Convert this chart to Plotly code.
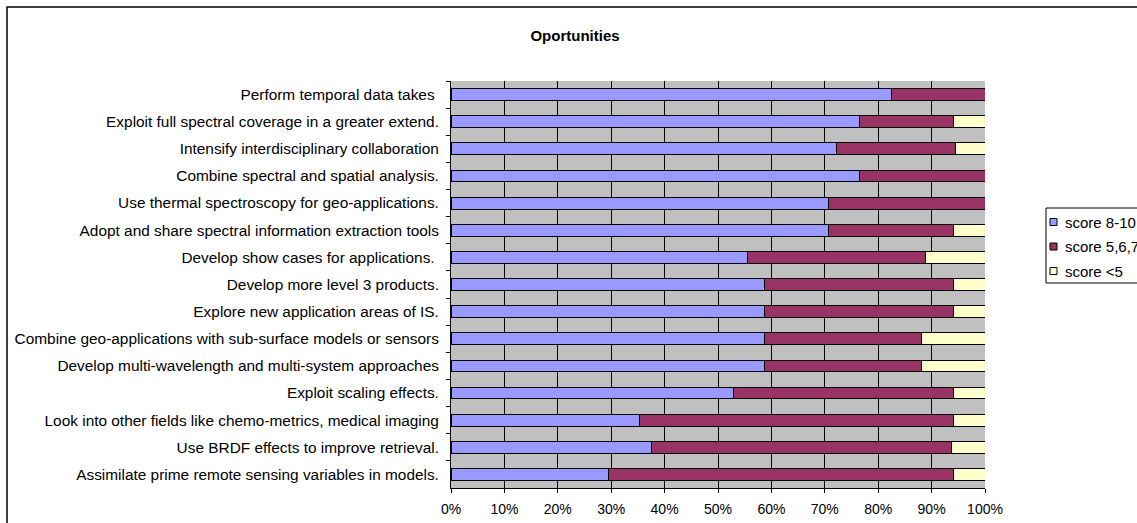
import plotly.graph_objects as go

# Survey statements (top to bottom) and share of answers per score group, in %
categories = [
    "Perform temporal data takes\u00a0",
    "Exploit full spectral coverage in a greater extend.",
    "Intensify interdisciplinary collaboration",
    "Combine spectral and spatial analysis.",
    "Use thermal spectroscopy for geo-applications.",
    "Adopt and share spectral information extraction tools",
    "Develop show cases for applications.\u00a0",
    "Develop more level 3 products.",
    "Explore new application areas of IS.",
    "Combine geo-applications with sub-surface models or sensors",
    "Develop multi-wavelength and multi-system approaches",
    "Exploit scaling effects.",
    "Look into other fields like chemo-metrics, medical imaging",
    "Use BRDF effects to improve retrieval.",
    "Assimilate prime remote sensing variables in models.",
]
score_8_10 = [82.4, 76.5, 72.2, 76.5, 70.6, 70.6, 55.6, 58.8, 58.8, 58.8, 58.8, 52.9, 35.3, 37.5, 29.4]
score_5_7 = [17.6, 17.6, 22.2, 23.5, 29.4, 23.5, 33.3, 35.3, 35.3, 29.4, 29.4, 41.2, 58.8, 56.25, 64.7]
score_lt5 = [0.0, 5.9, 5.6, 0.0, 0.0, 5.9, 11.1, 5.9, 5.9, 11.8, 11.8, 5.9, 5.9, 6.25, 5.9]

series_names = ["score 8-10", "score 5,6,7", "score <5"]
series_values = [score_8_10, score_5_7, score_lt5]
series_colors = ["#9999FF", "#993366", "#FFFFCC"]
x_ticks = list(range(0, 101, 10))
x_tick_labels = [f"{v}%" for v in x_ticks]

W, H = 1137, 523
ML, MR, MT, MB = 451, W - 985, 81, H - 488
PW, PH = W - ML - MR, H - MT - MB


def px_x(p):
    return (p - ML) / PW


def px_y(p):
    return 1 - (p - MT) / PH


FONT = "Liberation Sans, Arial, sans-serif"

fig = go.Figure()
for name, vals, col in zip(series_names, series_values, series_colors):
    fig.add_trace(go.Bar(
        y=categories, x=vals, name=name, orientation="h",
        marker=dict(color=col, line=dict(color="#000000", width=1)),
        showlegend=False, hoverinfo="x+y+name",
    ))

shapes = [
    # chart frame
    dict(type="rect", xref="paper", yref="paper",
         x0=px_x(7), x1=px_x(1150), y0=px_y(540), y1=px_y(7),
         line=dict(color="#000000", width=1.5), layer="below"),
    # legend box
    dict(type="rect", xref="paper", yref="paper",
         x0=px_x(1046), x1=px_x(1150), y0=px_y(283), y1=px_y(208),
         line=dict(color="#000000", width=1), fillcolor="#FFFFFF"),
]
annotations = []
for i, (name, col) in enumerate(zip(series_names, series_colors)):
    cy = 222 + 24.5 * i
    shapes.append(dict(type="rect", xref="paper", yref="paper",
                       x0=px_x(1050), x1=px_x(1057), y0=px_y(cy + 3.5), y1=px_y(cy - 3.5),
                       line=dict(color="#000000", width=1), fillcolor=col))
    annotations.append(dict(text=name, xref="paper", yref="paper",
                            x=px_x(1063), y=px_y(cy), xanchor="left", yanchor="middle",
                            showarrow=False, font=dict(family=FONT, size=15, color="#000000")))

fig.update_layout(
    width=W, height=H,
    margin=dict(l=ML, r=MR, t=MT, b=MB, autoexpand=False),
    barmode="stack", bargap=0.565,
    paper_bgcolor="#FFFFFF", plot_bgcolor="#C0C0C0",
    font=dict(family=FONT, size=15, color="#000000"),
    title=dict(text="<b>Oportunities</b>", x=575 / W, xanchor="center",
               y=1 - 36 / H, yanchor="middle", xref="container", yref="container",
               font=dict(family=FONT, size=15, color="#000000")),
    xaxis=dict(range=[0, 100], tickvals=x_ticks, ticktext=x_tick_labels,
               showgrid=True, gridcolor="#000000", gridwidth=1,
               showline=True, linecolor="#000000", linewidth=1,
               ticks="outside", ticklen=4, tickcolor="#000000",
               ticklabelstandoff=4,
               tickfont=dict(family=FONT, size=14), zeroline=False, fixedrange=True),
    yaxis=dict(autorange="reversed", type="category", tickson="boundaries",
               showgrid=False, showline=True, linecolor="#000000", linewidth=1,
               ticks="outside", ticklen=4, tickcolor="#000000",
               ticklabelstandoff=8,
               tickfont=dict(family=FONT, size=15.4), fixedrange=True),
    shapes=shapes, annotations=annotations,
    showlegend=False,
)

fig.write_html("out.html")
